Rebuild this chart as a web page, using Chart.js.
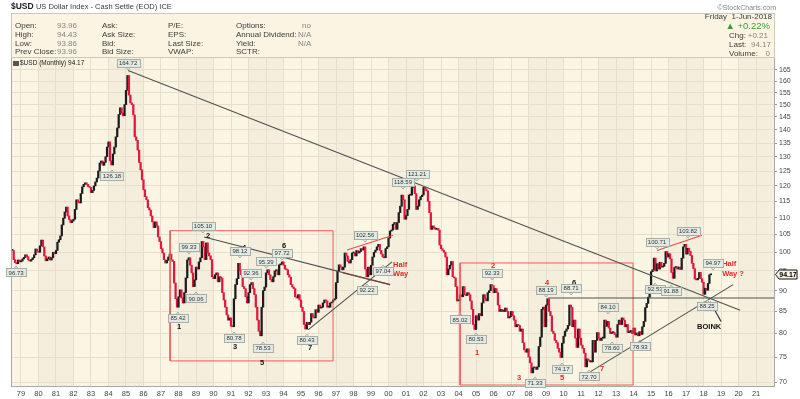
<!DOCTYPE html>
<html>
<head>
<meta charset="utf-8">
<title>$USD US Dollar Index - Monthly</title>
<script src="https://cdn.jsdelivr.net/npm/chart.js@4.4.0/dist/chart.umd.min.js"></script>
<style>
  body { margin: 0; background: #fff; }
  #wrap { position: relative; width: 800px; height: 399px; overflow: hidden; font-family: "Liberation Sans", Arial, sans-serif; }
  #chart { position: absolute; left: 0; top: 0; }
  #head { position: absolute; left: 11px; top: 13px; width: 762px; height: 43px; background: #fbf4e2; border: 1px solid #cfc8b6; }
  .t { position: absolute; white-space: nowrap; font-size: 8px; line-height: 9px; color: #3a3a3a; }
  .v { color: #858585; }
</style>
</head>
<body>
<div id="wrap">
  <canvas id="chart" width="800" height="399"></canvas>
  <div id="head"></div>
  <div class="t" style="left:11px;top:1.5px"><b style="font-size:8.5px;color:#222">$USD</b> <span style="font-size:7.5px">US Dollar Index - Cash Settle (EOD) ICE</span></div>
  <div class="t" style="right:24px;top:2.5px;font-size:7px;color:#888">&copy;StockCharts.com</div>

  <div class="t" style="left:15px;top:20.5px">Open:</div>
  <div class="t" style="left:15px;top:29.8px">High:</div>
  <div class="t" style="left:15px;top:38.8px">Low:</div>
  <div class="t" style="left:15px;top:47.2px">Prev Close:</div>
  <div class="t v" style="left:57px;top:20.5px">93.96</div>
  <div class="t v" style="left:57px;top:29.8px">94.43</div>
  <div class="t v" style="left:57px;top:38.8px">93.86</div>
  <div class="t v" style="left:57px;top:47.2px">93.96</div>

  <div class="t" style="left:102px;top:20.5px">Ask:</div>
  <div class="t" style="left:102px;top:29.8px">Ask Size:</div>
  <div class="t" style="left:102px;top:38.8px">Bid:</div>
  <div class="t" style="left:102px;top:47.2px">Bid Size:</div>

  <div class="t" style="left:168px;top:20.5px">P/E:</div>
  <div class="t" style="left:168px;top:29.8px">EPS:</div>
  <div class="t" style="left:168px;top:38.8px">Last Size:</div>
  <div class="t" style="left:168px;top:47.2px">VWAP:</div>

  <div class="t" style="left:236px;top:20.5px">Options:</div>
  <div class="t" style="left:236px;top:29.8px">Annual Dividend:</div>
  <div class="t" style="left:236px;top:38.8px">Yield:</div>
  <div class="t" style="left:236px;top:47.2px">SCTR:</div>
  <div class="t v" style="left:302px;top:20.5px">no</div>
  <div class="t v" style="left:298px;top:29.8px">N/A</div>
  <div class="t v" style="left:298px;top:38.8px">N/A</div>

  <div class="t" style="right:28px;top:12.2px">Friday&nbsp; 1-Jun-2018</div>
  <div class="t" style="right:30px;top:20.5px;font-size:9.5px;line-height:10px;color:#3f9a3f">&#9650; +0.22%</div>
  <div class="t" style="left:729px;top:30.5px">Chg:</div>
  <div class="t v" style="right:32px;top:30.5px">+0.21</div>
  <div class="t" style="left:729px;top:39.8px">Last:</div>
  <div class="t v" style="right:29px;top:39.8px">94.17</div>
  <div class="t" style="left:729px;top:48.8px">Volume:</div>
  <div class="t v" style="right:30px;top:48.8px">0</div>

  <div class="t" style="left:13px;top:58px;font-size:6.5px;color:#222"><span style="display:inline-block;width:6px;height:5px;background:#555;margin-right:1px;vertical-align:-0.5px"></span>$USD (Monthly) 94.17</div>
</div>

<script>
// monthly closes, Jul 1978 .. Jun 2018
const startYear = 1978.5;
const close1970s = [100.5, 98.0, 97.2, 96.9, 97.9, 97.4,
  97.6, 98.2, 98.6, 99.3, 98.8, 97.9, 97.6, 98.0, 98.5, 99.3, 100.9, 100.2];
const close1980s = [
  100.0, 101.8, 103.4, 101.5, 99.0, 97.7, 98.2, 98.7, 97.9, 98.5, 100.0, 99.6,
  100.5, 102.8, 103.5, 104.6, 107.8, 109.8, 111.7, 113.2, 110.5, 109.4, 108.5, 109.0,
  109.5, 112.5, 115.5, 114.8, 114.5, 117.5, 119.7, 120.5, 121.0, 120.5, 119.8, 119.5,
  117.8, 118.5, 120.0, 121.3, 122.6, 125.0, 127.8, 128.5, 127.0, 128.0, 130.0, 133.5,
  135.4, 128.5, 127.1, 131.0, 133.5, 137.3, 140.7, 146.0, 148.7, 146.6, 145.5, 150.0,
  156.0, 162.5, 154.0, 150.7, 150.0, 145.8, 137.3, 136.0, 132.4, 128.0, 125.4, 122.0,
  118.7, 116.5, 115.5, 113.0, 112.3, 110.5, 108.7, 107.0, 108.7, 107.5, 104.3, 103.0,
  101.0, 99.8, 98.0, 97.1, 97.8, 98.7, 99.5, 97.9, 97.5, 91.9, 88.0, 86.0,
  88.5, 90.2, 88.2, 87.0, 89.5, 93.2, 97.9, 98.5, 96.5, 94.5, 91.0, 92.7,
  96.0, 95.5, 97.4, 98.5, 103.0, 101.5, 98.0, 102.6, 99.8, 99.0, 98.0, 93.5];
const close1990s = [
  93.0, 94.0, 94.5, 92.2, 93.5, 93.2, 89.5, 87.7, 86.0, 84.2, 83.0, 83.5,
  81.6, 81.5, 88.0, 91.5, 93.0, 97.0, 95.0, 94.0, 91.0, 90.5, 88.5, 87.0,
  89.5, 91.5, 92.0, 90.5, 89.0, 86.0, 83.0, 80.5, 79.5, 86.0, 90.0, 90.9,
  94.5, 95.3, 94.0, 92.8, 92.2, 93.5, 95.0, 95.3, 94.0, 96.6, 96.8, 97.4,
  96.5, 95.5, 95.3, 94.0, 93.4, 91.5, 90.9, 90.5, 88.5, 88.2, 89.0, 87.7,
  86.0, 85.0, 82.0, 81.0, 82.5, 82.0, 82.5, 84.5, 83.7, 83.5, 85.4, 84.8,
  86.5, 85.8, 86.0, 87.0, 87.7, 87.5, 86.0, 86.0, 87.0, 87.2, 87.7, 88.0,
  92.0, 95.0, 96.6, 96.0, 95.3, 96.0, 99.8, 99.0, 97.5, 97.1, 98.0, 99.8,
  99.8, 99.0, 100.5, 99.8, 100.2, 101.0, 100.6, 101.5, 95.5, 93.5, 96.0, 94.0,
  96.5, 98.7, 100.0, 100.6, 101.5, 102.2, 100.5, 99.5, 98.7, 98.5, 101.0, 101.5];
const close2000s = [
  104.0, 106.0, 106.3, 108.0, 108.5, 106.5, 108.5, 111.5, 113.5, 117.0, 115.5, 109.5,
  110.6, 112.5, 117.0, 117.0, 119.5, 120.0, 117.5, 112.5, 113.5, 115.5, 116.5, 117.0,
  119.5, 119.0, 118.4, 115.0, 111.5, 106.5, 107.5, 107.0, 106.5, 106.8, 106.3, 102.0,
  101.0, 100.5, 100.0, 98.7, 94.0, 95.5, 96.5, 97.5, 93.5, 93.2, 91.0, 87.5,
  87.5, 89.0, 88.5, 91.0, 89.0, 88.8, 89.5, 89.0, 87.5, 85.5, 82.0, 80.9,
  84.0, 83.0, 84.5, 84.0, 87.0, 89.0, 88.0, 87.5, 89.5, 90.0, 91.5, 91.2,
  89.5, 90.5, 89.5, 86.5, 85.0, 85.5, 85.0, 85.0, 85.8, 85.0, 83.5, 83.8,
  85.0, 84.0, 83.0, 81.5, 82.0, 81.8, 80.5, 81.0, 78.0, 76.5, 76.0, 76.7,
  75.0, 73.8, 71.8, 72.8, 72.9, 72.5, 73.0, 77.2, 79.2, 85.5, 86.0, 81.5,
  86.5, 88.0, 85.0, 84.0, 80.5, 80.0, 78.5, 78.0, 76.8, 76.0, 74.9, 77.9];
const close2010s = [
  79.4, 80.5, 81.0, 81.8, 86.5, 86.0, 81.5, 83.0, 79.0, 77.0, 81.0, 79.0,
  77.5, 76.8, 75.8, 73.0, 74.6, 74.3, 74.0, 74.0, 78.5, 76.0, 78.5, 80.2,
  79.0, 78.5, 79.0, 79.0, 83.0, 81.6, 82.7, 81.2, 80.0, 80.2, 80.2, 79.8,
  79.2, 82.0, 83.0, 82.0, 83.5, 83.0, 81.5, 82.0, 80.2, 80.3, 80.7, 80.0,
  81.2, 79.7, 80.1, 79.5, 80.4, 79.8, 81.5, 82.7, 85.9, 86.9, 88.4, 90.3,
  94.8, 95.3, 98.4, 95.0, 96.9, 95.5, 97.3, 96.0, 96.2, 97.0, 100.2, 98.7,
  99.6, 98.2, 94.6, 93.1, 95.9, 96.1, 95.5, 96.0, 95.4, 98.4, 101.5, 102.2,
  99.5, 101.1, 100.3, 99.1, 97.0, 95.6, 92.9, 92.7, 93.1, 94.6, 93.0, 92.1,
  89.1, 90.6, 90.1, 91.8, 94.0, 94.17];

const yearTicks = [1979, 1980, 1981, 1982, 1983, 1984, 1985, 1986, 1987, 1988, 1989, 1990, 1991, 1992,
  1993, 1994, 1995, 1996, 1997, 1998, 1999, 2000, 2001, 2002, 2003, 2004, 2005, 2006, 2007,
  2008, 2009, 2010, 2011, 2012, 2013, 2014, 2015, 2016, 2017, 2018, 2019, 2020, 2021];
const priceTicks = [70, 75, 80, 85, 90, 95, 100, 105, 110, 115, 120, 125, 130, 135, 140, 145, 150, 155, 160, 165];

// marked highs (a) and lows (b): [year, text, side]
const pivotTags = [
  [1985.12, '164.72', 'a'], [1984.20, '126.18', 'b'], [1978.72, '96.73', 'b'],
  [1987.97, '85.42', 'b'], [1988.60, '99.33', 'a'], [1989.00, '90.06', 'b'], [1989.40, '105.10', 'a'],
  [1991.17, '80.78', 'b'], [1991.51, '98.12', 'a'], [1992.14, '92.36', 'a'], [1992.83, '78.53', 'b'],
  [1993.00, '95.39', 'a'], [1993.92, '97.72', 'a'], [1995.34, '80.43', 'b'],
  [1998.66, '102.56', 'a'], [1998.77, '92.22', 'b'], [1999.69, '97.04', 'b'],
  [2000.83, '118.59', 'a'], [2001.63, '121.21', 'a'],
  [2004.09, '85.02', 'b'], [2005.00, '80.53', 'b'], [2005.92, '92.33', 'a'], [2008.37, '71.33', 'b'],
  [2009.00, '88.19', 'a'], [2010.43, '88.71', 'a'], [2009.91, '74.17', 'b'], [2011.46, '72.70', 'b'],
  [2012.54, '84.10', 'a'], [2012.77, '78.60', 'b'], [2014.37, '78.93', 'b'],
  [2015.23, '92.53', 'b'], [2016.14, '91.88', 'b'], [2015.34, '100.71', 'a'], [2017.11, '103.82', 'a'],
  [2018.54, '94.97', 'a'], [2018.20, '88.25', 'b']];

// wave counts: [year, price, text, colour]
const waveCounts = [
  [1988.03, 81.4, '1', '#111'], [1989.69, 104.6, '2', '#111'], [1991.23, 77.1, '3', '#111'],
  [1991.74, 101.2, '4', '#111'], [1992.77, 73.8, '5', '#111'], [1994.03, 101.7, '6', '#111'],
  [1995.52, 76.9, '7', '#111'],
  [2005.06, 75.8, '1', '#e8262a'], [2005.97, 96.3, '2', '#e8262a'], [2007.46, 70.8, '3', '#e8262a'],
  [2009.06, 91.9, '4', '#e8262a'], [2009.92, 70.8, '5', '#e8262a'], [2010.60, 91.9, '6', '#111'],
  [2012.20, 72.6, '7', '#e8262a']];

// free text notes: [year, price, text, colour, align]
const noteTexts = [
  [2000.26, 96.7, 'Half', '#e8262a', 'left'], [2000.26, 94.2, 'Way', '#e8262a', 'left'],
  [2019.06, 96.8, 'Half', '#e8262a', 'left'], [2019.06, 94.2, 'Way ?', '#e8262a', 'left'],
  [2018.32, 81.4, 'BOINK', '#111', 'center']];

// trend lines and boxes
const trendLines = [
  { pts: [[1985.12, 164.72], [2020.09, 85.3]], color: '#505050' },
  { pts: [[1989.46, 104.3], [2000.09, 91.5]], color: '#505050' },
  { pts: [[1995.40, 80.8], [2000.20, 97.4]], color: '#505050' },
  { pts: [[1997.63, 100.6], [2000.26, 104.8]], color: '#f04848' },
  { pts: [[1997.40, 94.5], [2000.09, 91.5]], color: '#f04848' },
  { pts: [[2009.12, 88.19], [2022.08, 88.19]], color: '#505050' },
  { pts: [[2011.52, 72.0], [2019.69, 91.5]], color: '#505050' },
  { pts: [[2015.34, 100.5], [2017.91, 104.8]], color: '#f04848' }];
const boxes = [
  { x: [1987.52, 1996.83], y: [74.2, 106.1] },
  { x: [2004.09, 2013.97], y: [69.45, 97.1] }];
const boinkArrow = [[2019.00, 82.7], [2018.37, 87.3]];

const closes = [].concat(close1970s, close1980s, close1990s, close2000s, close2010s);
const upColor = '#1c1c1c', downColor = '#e2173d';
const font = '"Liberation Sans", Arial, sans-serif';

const bars = closes.map((c, i) => ({ x: startYear + i / 12, y: [i ? closes[i - 1] : c, c] }));

const datasets = [{
  type: 'bar',
  data: bars,
  order: 2,
  grouped: false,
  barThickness: 1.6,
  minBarLength: 1,
  backgroundColor: ctx => (ctx.raw && ctx.raw.y[1] < ctx.raw.y[0]) ? downColor : upColor,
  borderWidth: 0
}];
boxes.forEach(b => datasets.push({
  type: 'line', order: 1,
  data: [{x: b.x[0], y: b.y[0]}, {x: b.x[1], y: b.y[0]}, {x: b.x[1], y: b.y[1]}, {x: b.x[0], y: b.y[1]}, {x: b.x[0], y: b.y[0]}],
  borderColor: '#f25a5a', borderWidth: 1, pointRadius: 0, fill: false, tension: 0
}));
trendLines.forEach(l => datasets.push({
  type: 'line', order: 0,
  data: l.pts.map(p => ({x: p[0], y: p[1]})),
  borderColor: l.color, borderWidth: 1.1, pointRadius: 0, fill: false
}));

const bands = {
  id: 'bands',
  beforeDraw(chart) {
    const {ctx, chartArea: a, scales: {x}} = chart;
    ctx.save();
    ctx.fillStyle = '#fbf5e4';
    ctx.fillRect(a.left, a.top, a.right - a.left, a.bottom - a.top);
    ctx.fillStyle = '#f4eedc';
    for (let yr = 1976; yr < 2024; yr += 4) {
      const l = Math.max(a.left, x.getPixelForValue(yr));
      const r = Math.min(a.right, x.getPixelForValue(yr + 2));
      if (r > l) ctx.fillRect(l, a.top, r - l, a.bottom - a.top);
    }
    ctx.restore();
  }
};

function drawTag(ctx, px, py, text, side) {
  ctx.font = '6px ' + font;
  const w = Math.ceil(ctx.measureText(text).width) + 4, h = 8;
  const cy = side === 'a' ? py - 8 : py + 8;
  const left = Math.round(px - w / 2) + 0.5, top = Math.round(cy - h / 2) + 0.5;
  ctx.fillStyle = '#e5e9e3';
  ctx.strokeStyle = '#a7aea6';
  ctx.lineWidth = 1;
  ctx.fillRect(left, top, w, h);
  ctx.strokeRect(left, top, w, h);
  ctx.beginPath();
  if (side === 'a') { ctx.moveTo(px - 2, top + h); ctx.lineTo(px, top + h + 2.5); ctx.lineTo(px + 2, top + h); }
  else { ctx.moveTo(px - 2, top); ctx.lineTo(px, top - 2.5); ctx.lineTo(px + 2, top); }
  ctx.stroke();
  ctx.fillStyle = '#2a3838';
  ctx.textAlign = 'center';
  ctx.textBaseline = 'middle';
  ctx.fillText(text, px, cy + 0.5);
}

const notes = {
  id: 'notes',
  afterDatasetsDraw(chart) {
    const {ctx, chartArea: a, scales: {x, y}} = chart;
    ctx.save();
    ctx.beginPath();
    ctx.rect(a.left, a.top, a.right - a.left, a.bottom - a.top);
    ctx.clip();

    ctx.font = 'bold 7.5px ' + font;
    ctx.textAlign = 'center';
    ctx.textBaseline = 'middle';
    waveCounts.forEach(([yr, v, t, c]) => {
      ctx.fillStyle = c;
      ctx.fillText(t, x.getPixelForValue(yr), y.getPixelForValue(v));
    });

    ctx.font = 'bold 7.5px ' + font;
    noteTexts.forEach(([yr, v, t, c, al]) => {
      ctx.fillStyle = c;
      ctx.textAlign = al;
      ctx.fillText(t, x.getPixelForValue(yr), y.getPixelForValue(v));
    });

    // arrow to the 2018 low
    const tx = x.getPixelForValue(boinkArrow[0][0]), ty = y.getPixelForValue(boinkArrow[0][1]);
    const hx = x.getPixelForValue(boinkArrow[1][0]), hy = y.getPixelForValue(boinkArrow[1][1]);
    const ang = Math.atan2(hy - ty, hx - tx);
    ctx.strokeStyle = '#333';
    ctx.lineWidth = 1.2;
    ctx.beginPath(); ctx.moveTo(tx, ty); ctx.lineTo(hx, hy); ctx.stroke();
    ctx.fillStyle = '#111';
    ctx.beginPath();
    ctx.moveTo(hx, hy);
    ctx.lineTo(hx - 7 * Math.cos(ang - 0.45), hy - 7 * Math.sin(ang - 0.45));
    ctx.lineTo(hx - 7 * Math.cos(ang + 0.45), hy - 7 * Math.sin(ang + 0.45));
    ctx.closePath();
    ctx.fill();
    ctx.restore();

    // plot frame
    ctx.save();
    ctx.strokeStyle = '#a9a9a9';
    ctx.lineWidth = 1;
    ctx.strokeRect(a.left + 0.5, a.top - 0.5, a.right - a.left - 1, a.bottom - a.top);
    ctx.restore();

    // high / low tags (may stick out past the frame, as in the original)
    ctx.save();
    pivotTags.forEach(([yr, t, side]) =>
      drawTag(ctx, x.getPixelForValue(yr), y.getPixelForValue(parseFloat(t)), t, side));
    ctx.restore();

    // last price marker on the axis
    const last = closes[closes.length - 1];
    const ly = Math.round(y.getPixelForValue(last)) + 0.5;
    const bx = a.right + 4;
    ctx.save();
    ctx.fillStyle = '#f7f3e6';
    ctx.strokeStyle = '#111';
    ctx.lineWidth = 1;
    ctx.beginPath();
    ctx.moveTo(a.right + 0.5, ly);
    ctx.lineTo(bx, ly - 4.5); ctx.lineTo(bx + 18, ly - 4.5);
    ctx.lineTo(bx + 18, ly + 4.5); ctx.lineTo(bx, ly + 4.5);
    ctx.closePath();
    ctx.fill(); ctx.stroke();
    ctx.fillStyle = '#000';
    ctx.font = 'bold 7px ' + font;
    ctx.textAlign = 'center';
    ctx.textBaseline = 'middle';
    ctx.fillText(last.toFixed(2), bx + 9, ly + 0.5);
    ctx.restore();
  }
};

new Chart(document.getElementById('chart'), {
  type: 'bar',
  data: { datasets },
  options: {
    responsive: false,
    animation: false,
    devicePixelRatio: 1,
    layout: { padding: { left: 11, top: 58, right: 0, bottom: 0 } },
    plugins: { legend: { display: false }, tooltip: { enabled: false } },
    scales: {
      x: {
        type: 'linear', min: 1978.43, max: 2022.08, offset: false,
        afterBuildTicks: s => { s.ticks = yearTicks.map(v => ({ value: v })); },
        afterFit: s => { s.height = 12; },
        ticks: {
          autoSkip: false, maxRotation: 0, padding: 2, color: '#444',
          font: { size: 7.5, family: font },
          callback: v => String(Math.round(v) % 100).padStart(2, '0')
        },
        grid: { color: '#e7dfcb', drawTicks: false, offset: false },
        border: { display: false }
      },
      y: {
        type: 'logarithmic', position: 'right', min: 69.07, max: 170.5,
        afterBuildTicks: s => { s.ticks = priceTicks.map(v => ({ value: v })); },
        afterFit: s => { s.width = 25; },
        ticks: {
          autoSkip: false, padding: 2, color: '#444',
          font: { size: 7, family: font },
          callback: v => String(v)
        },
        grid: { color: '#e7dfcb', tickLength: 2, tickColor: '#999' },
        border: { display: false }
      }
    }
  },
  plugins: [bands, notes]
});
</script>
</body>
</html>
